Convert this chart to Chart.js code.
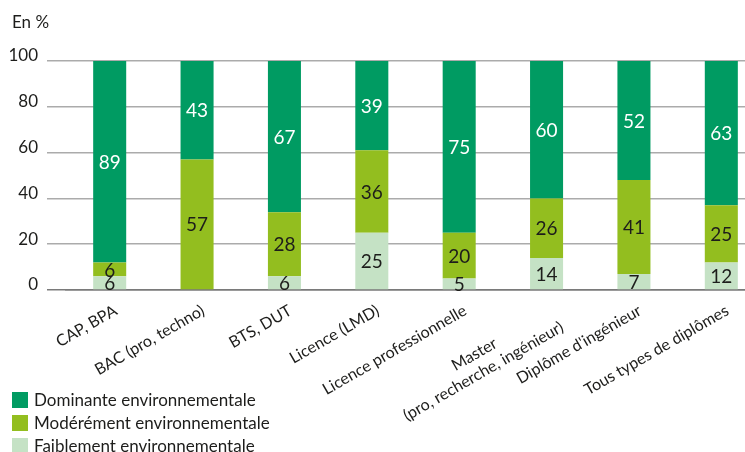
<!DOCTYPE html>
<html>
<head>
<meta charset="utf-8">
<script src="https://cdn.jsdelivr.net/npm/chart.js@4"></script>
<style>
  body { margin: 0; overflow: hidden; background: #fff; font-family: Lato, sans-serif; color: #1d1d1b; }
  #wrap { position: absolute; left: 0; top: 0; width: 765px; height: 452px; }
  #unit { position: absolute; left: 12px; top: 11px; font-size: 17px; }
  #legend { position: absolute; left: 12px; top: 388px; font-size: 17px; }
  #legend div { height: 23px; line-height: 23px; white-space: nowrap; }
  #legend span { display: inline-block; width: 16px; height: 16px; vertical-align: -2px; margin-right: 6px; }
</style>
</head>
<body>
<div id="wrap"><canvas id="chart"></canvas></div>
<div id="unit">En %</div>
<div id="legend"></div>
<script>
// data
var categories = [
    'CAP, BPA',
    'BAC (pro, techno)',
    'BTS, DUT',
    'Licence (LMD)',
    'Licence professionnelle',
    ['Master                ', '(pro, recherche, ingénieur)'],
    "Diplôme d'ingénieur",
    'Tous types de diplômes'
];
var faible = [6, 0, 6, 25, 5, 14, 7, 12];
var modere = [6, 57, 28, 36, 20, 26, 41, 25];
var dominante = [89, 43, 67, 39, 75, 60, 52, 63];
var yTicks = [0, 20, 40, 60, 80, 100];

var seriesNames = ['Faiblement environnementale', 'Modérément environnementale', 'Dominante environnementale'];
var colors = ['#c5e2c5', '#93be1f', '#009b62'];
var labelColors = ['#1d1d1b', '#1d1d1b', '#ffffff'];

// values written inside the bar segments
var segmentLabels = {
    id: 'segmentLabels',
    afterDatasetsDraw: function(chart) {
        var ctx = chart.ctx;
        ctx.save();
        ctx.font = '19px Lato';
        ctx.textAlign = 'center';
        ctx.textBaseline = 'middle';
        chart.data.datasets.forEach(function(ds, i) {
            var meta = chart.getDatasetMeta(i);
            meta.data.forEach(function(bar, j) {
                var v = ds.data[j];
                if (!v) return;
                var top = Math.max(bar.y, chart.chartArea.top);
                ctx.fillStyle = labelColors[i];
                ctx.fillText(v, bar.x, (top + bar.base) / 2 + 1);
            });
        });
        ctx.restore();
    }
};

var ctx = document.getElementById('chart').getContext('2d');
var chart = new Chart(ctx, {
    type: 'bar',
    data: {
        labels: categories,
        datasets: [faible, modere, dominante].map(function(d, i) {
            return {
                label: seriesNames[i],
                data: d,
                backgroundColor: colors[i],
                barPercentage: 0.378,
                categoryPercentage: 1
            };
        })
    },
    options: {
        responsive: true,
        maintainAspectRatio: false,
        animation: false,
        layout: { padding: { top: 61, right: 0, left: 0, bottom: 0 } },
        plugins: {
            legend: { display: false },
            tooltip: { enabled: false }
        },
        scales: {
            x: {
                stacked: true,
                grid: { display: false },
                border: { display: true, color: '#7a7a7a', width: 1.5 },
                ticks: {
                    color: '#1d1d1b',
                    font: { family: 'Lato', size: 16 },
                    minRotation: 30,
                    maxRotation: 30,
                    padding: 3,
                    labelOffset: 6,
                    autoSkip: false
                },
                afterFit: function(scale) { scale.height = 162; }
            },
            y: {
                stacked: true,
                min: 0,
                max: 100,
                afterBuildTicks: function(scale) {
                    scale.ticks = yTicks.map(function(v) { return { value: v }; });
                },
                grid: {
                    color: function(c) { return c.tick && c.tick.value === 0 ? '#7a7a7a' : '#ababab'; },
                    lineWidth: 1.5,
                    tickLength: 19
                },
                border: { display: false },
                ticks: {
                    color: '#1d1d1b',
                    font: { family: 'Lato', size: 17 },
                    padding: 9,
                    labelOffset: -5
                },
                afterFit: function(scale) { scale.width = 66; }
            }
        }
    },
    plugins: [segmentLabels]
});

// legend, top to bottom as in the reference
var legend = document.getElementById('legend');
[2, 1, 0].forEach(function(i) {
    var row = document.createElement('div');
    row.innerHTML = '<span style="background:' + colors[i] + '"></span>' + seriesNames[i];
    legend.appendChild(row);
});
</script>
</body>
</html>
